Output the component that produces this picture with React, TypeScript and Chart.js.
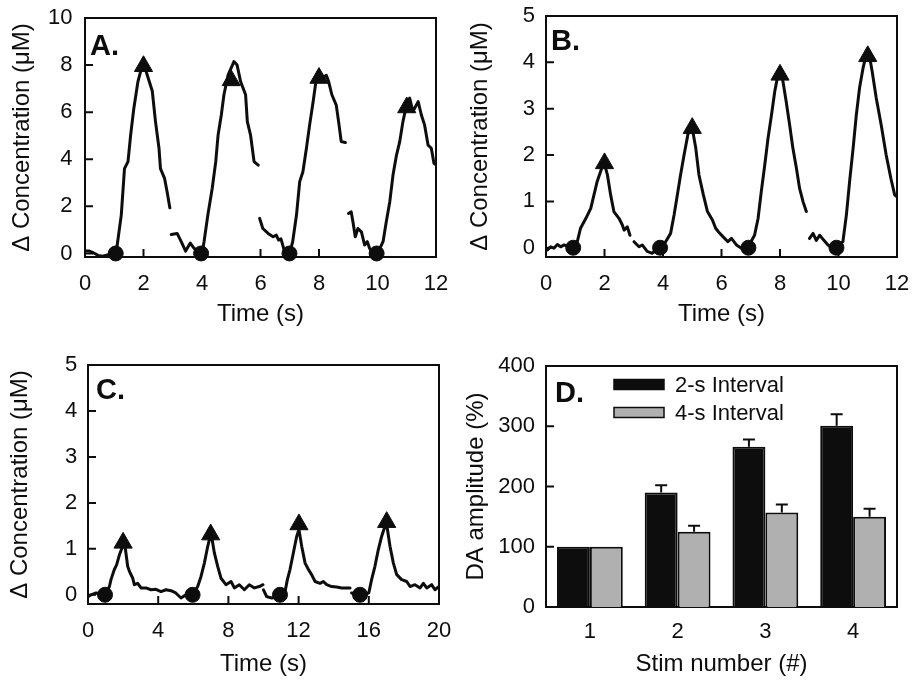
import React, { useEffect, useRef } from "react";
import { Chart, registerables } from "chart.js";

Chart.register(...registerables);

const FONT = "'Liberation Sans', Arial, Helvetica, sans-serif";
const INK = "#0d0d0d";
const GRAY = "#b0b0b0";

type Pt = [number, number | null];

// ---------- Panel A (2-s interval, Δ concentration) ----------
const A_TRACE: Pt[] = [
  [0, 0.1], [0.15, 0.1], [0.3, 0.02], [0.45, -0.08], [0.6, -0.12], [0.8, -0.05], [1.0, 0.0],
  [1.1, 0.35], [1.24, 1.63], [1.35, 3.6], [1.47, 3.9], [1.56, 5.03], [1.67, 6.17], [1.81, 7.3],
  [1.99, 8.15], [2.13, 7.57], [2.3, 6.9], [2.41, 5.6], [2.53, 4.47], [2.58, 3.6], [2.72, 3.19],
  [2.81, 2.6], [2.9, 1.94],
  [2.93, null],
  [2.95, 0.81], [3.15, 0.85], [3.29, 0.5], [3.44, 0.1], [3.6, 0.44], [3.73, 0.22], [3.9, 0.05],
  [4.0, 0.0], [4.07, 0.5], [4.2, 1.63], [4.35, 2.77], [4.47, 3.9], [4.55, 5.03], [4.66, 5.88],
  [4.75, 6.74], [4.89, 7.57], [5.04, 8.0], [5.09, 8.15], [5.2, 8.0], [5.32, 7.3], [5.49, 6.74],
  [5.55, 5.6], [5.66, 5.03], [5.78, 3.9], [5.92, 3.75],
  [5.95, null],
  [5.97, 1.49], [6.08, 1.06], [6.26, 0.85], [6.43, 0.71], [6.54, 0.78], [6.62, 0.57], [6.7, 0.62],
  [6.83, 0.05], [7.0, 0.0], [7.1, 0.5], [7.23, 1.63], [7.34, 3.05], [7.45, 3.47], [7.57, 4.47],
  [7.68, 5.46], [7.8, 6.45], [7.91, 7.43], [7.97, 7.72], [8.1, 7.43], [8.25, 7.57], [8.33, 7.3],
  [8.44, 6.74], [8.59, 6.3], [8.67, 5.6], [8.76, 4.75], [8.9, 4.71],
  [8.95, null],
  [9.01, 1.7], [9.1, 1.77], [9.16, 1.35], [9.24, 0.71], [9.33, 1.06], [9.45, 0.92], [9.56, 0.36],
  [9.65, 0.5], [9.73, 0.22], [9.85, 0.02], [10.0, 0.0], [10.19, 0.5], [10.3, 1.35], [10.42, 2.2],
  [10.53, 3.33], [10.65, 4.18], [10.76, 4.75], [10.87, 5.6], [10.99, 6.3], [11.1, 6.6], [11.21, 6.03],
  [11.39, 6.45], [11.5, 5.88], [11.61, 5.46], [11.73, 4.6], [11.84, 4.47], [11.93, 3.83], [12.0, 3.76],
];
const A_PEAKS: Pt[] = [[2.0, 7.95], [5.0, 7.35], [8.0, 7.45], [11.0, 6.2]];
const A_ONSETS: Pt[] = [[1.05, 0], [3.97, 0], [6.99, 0], [9.97, 0]];
const A_X_TICKS = [0, 2, 4, 6, 8, 10, 12];
const A_Y_TICKS = [0, 2, 4, 6, 8, 10];

// ---------- Panel B ----------
const B_TRACE: Pt[] = [
  [0.0, -0.03], [0.04, -0.05], [0.16, 0.02], [0.27, -0.01], [0.39, 0.07], [0.5, 0.02], [0.62, 0.06],
  [0.79, 0.02], [0.95, 0.0], [1.07, 0.13], [1.18, 0.42], [1.36, 0.63], [1.53, 0.85], [1.64, 1.14],
  [1.75, 1.43], [1.87, 1.65], [1.98, 1.86], [2.1, 1.57], [2.21, 1.14], [2.32, 0.78], [2.5, 0.63],
  [2.61, 0.49], [2.67, 0.38], [2.78, 0.45], [2.87, 0.27],
  [2.94, null],
  [3.01, 0.13], [3.18, 0.02], [3.29, 0.06], [3.46, -0.08], [3.63, -0.12], [3.9, 0.0], [4.09, 0.13],
  [4.26, 0.31], [4.38, 0.71], [4.49, 1.14], [4.6, 1.57], [4.72, 2.0], [4.85, 2.44], [4.98, 2.65],
  [5.12, 2.15], [5.23, 1.57], [5.38, 1.14], [5.52, 0.78], [5.69, 0.6], [5.8, 0.42], [5.9, 0.34],
  [6.05, 0.24], [6.22, 0.13], [6.34, 0.2], [6.51, 0.06], [6.68, -0.01], [6.91, 0.02], [7.13, 0.27],
  [7.25, 0.63], [7.36, 1.21], [7.48, 1.79], [7.59, 2.36], [7.71, 2.87], [7.82, 3.37], [7.93, 3.73],
  [8.01, 3.88], [8.1, 3.59], [8.21, 3.16], [8.33, 2.65], [8.44, 2.15], [8.56, 1.72], [8.67, 1.28],
  [8.79, 0.99], [8.9, 0.78],
  [8.95, null],
  [9.01, 0.2], [9.13, 0.31], [9.24, 0.16], [9.36, 0.27], [9.5, 0.16], [9.64, 0.06], [9.81, -0.01],
  [9.93, 0.0], [10.15, 0.13], [10.27, 0.71], [10.38, 1.43], [10.5, 2.15], [10.61, 2.87], [10.72, 3.45],
  [10.84, 3.88], [10.95, 4.17], [11.03, 4.24], [11.15, 3.81], [11.29, 3.23], [11.46, 2.65],
  [11.63, 2.0], [11.79, 1.5], [11.92, 1.14], [12.0, 1.1],
];
const B_PEAKS: Pt[] = [[2.0, 1.82], [5.0, 2.58], [8.0, 3.73], [11.0, 4.13]];
const B_ONSETS: Pt[] = [[0.93, 0], [3.9, 0], [6.92, 0], [9.93, 0]];
const B_X_TICKS = [0, 2, 4, 6, 8, 10, 12];
const B_Y_TICKS = [0, 1, 2, 3, 4, 5];

// ---------- Panel C ----------
const C_TRACE: Pt[] = [
  [0.0, -0.04], [0.17, 0.0], [0.46, 0.04], [0.7, 0.02], [0.97, 0.0], [1.22, 0.18], [1.31, 0.33],
  [1.5, 0.55], [1.63, 0.65], [1.79, 0.87], [1.97, 1.05], [2.1, 1.09], [2.26, 0.62], [2.36, 0.51],
  [2.55, 0.36], [2.64, 0.22], [2.83, 0.25], [3.02, 0.15], [3.3, 0.15], [3.59, 0.11], [3.87, 0.12],
  [4.16, 0.07], [4.44, 0.11], [4.73, 0.09], [5.0, 0.04], [5.3, -0.07], [5.58, 0.0], [5.96, 0.0],
  [6.25, 0.18], [6.44, 0.4], [6.63, 0.69], [6.82, 1.05], [7.01, 1.35], [7.2, 0.91], [7.39, 0.62],
  [7.58, 0.36], [7.86, 0.22], [8.15, 0.29], [8.34, 0.15], [8.62, 0.22], [8.91, 0.11], [9.19, 0.22],
  [9.48, 0.15], [9.76, 0.18], [9.97, 0.22],
  [9.985, null],
  [10.0, 0.11], [10.18, -0.04], [10.47, -0.07], [10.94, 0.0], [11.23, 0.07], [11.36, 0.33],
  [11.51, 0.55], [11.7, 0.91], [11.89, 1.27], [12.02, 1.42], [12.18, 1.05], [12.37, 0.69],
  [12.56, 0.55], [12.74, 0.44], [12.94, 0.29], [13.22, 0.25], [13.41, 0.29], [13.6, 0.22],
  [13.88, 0.18], [14.17, 0.17], [14.45, 0.15], [14.64, 0.15], [14.93, 0.15],
  [14.97, null],
  [15.02, 0.04], [15.5, 0.0], [16.0, 0.04], [16.16, 0.33], [16.35, 0.62], [16.54, 0.98],
  [16.73, 1.27], [16.92, 1.49], [17.02, 1.53], [17.21, 1.05], [17.4, 0.69], [17.59, 0.44],
  [17.87, 0.33], [18.16, 0.29], [18.35, 0.18], [18.63, 0.22], [18.92, 0.15], [19.11, 0.25],
  [19.3, 0.15], [19.58, 0.22], [19.77, 0.11], [19.96, 0.17], [20.0, 0.15],
];
const C_PEAKS: Pt[] = [[2.0, 1.13], [6.99, 1.31], [12.02, 1.53], [17.02, 1.58]];
const C_ONSETS: Pt[] = [[0.97, 0], [5.96, 0], [10.94, 0], [15.5, 0]];
const C_X_TICKS = [0, 4, 8, 12, 16, 20];
const C_Y_TICKS = [0, 1, 2, 3, 4, 5];

// ---------- Panel D ----------
const D_CATEGORIES = ["1", "2", "3", "4"];
const D_SERIES_NAMES = ["2-s Interval", "4-s Interval"];
const D_2S = [100, 190, 266, 301];
const D_2S_ERR = [0, 12, 12, 19];
const D_4S = [100, 125, 157, 150];
const D_4S_ERR = [0, 10, 13, 13];
const D_Y_TICKS = [0, 100, 200, 300, 400];

const toXY = (pts: Pt[]) => pts.map(([x, y]) => ({ x, y }));

// zero the label-overflow padding so the plot box lands exactly where asked
const zeroPad = (sc: any) => {
  sc.paddingTop = 0;
  sc.paddingBottom = 0;
  sc.paddingLeft = 0;
  sc.paddingRight = 0;
};

// ---------- plugins ----------
const TICK_LEN = 8;

const framePlugin = {
  id: "frame",
  beforeDatasetsDraw(chart: any, _args: any, opts: any) {
    const { ctx, chartArea: a } = chart;
    ctx.save();
    ctx.strokeStyle = INK;
    ctx.lineWidth = 2;
    ctx.strokeRect(a.left, a.top, a.right - a.left, a.bottom - a.top);
    ctx.beginPath();
    if (opts.xTicks) {
      const xs = chart.scales.x;
      xs.ticks.forEach((t: any) => {
        const px = xs.getPixelForValue(t.value);
        ctx.moveTo(px, a.bottom);
        ctx.lineTo(px, a.bottom - TICK_LEN);
      });
    }
    if (opts.yTicks) {
      const ys = chart.scales.y;
      ys.ticks.forEach((t: any) => {
        const py = ys.getPixelForValue(t.value);
        ctx.moveTo(a.left, py);
        ctx.lineTo(a.left + TICK_LEN, py);
      });
    }
    ctx.stroke();
    ctx.restore();
  },
};

const panelLabelPlugin = {
  id: "panelLabel",
  afterDraw(chart: any, _args: any, opts: any) {
    const { ctx, chartArea: a } = chart;
    ctx.save();
    ctx.font = `bold 29px ${FONT}`;
    ctx.fillStyle = INK;
    ctx.textAlign = "left";
    ctx.textBaseline = "alphabetic";
    ctx.fillText(opts.text, a.left + opts.dx, a.top + opts.dy);
    ctx.restore();
  },
};

const errorBarPlugin = {
  id: "errorBars",
  afterDatasetsDraw(chart: any) {
    const { ctx } = chart;
    const yScale = chart.scales.y;
    const errs = [D_2S_ERR, D_4S_ERR];
    ctx.save();
    ctx.strokeStyle = INK;
    ctx.lineWidth = 2;
    errs.forEach((list, di) => {
      const meta = chart.getDatasetMeta(di);
      meta.data.forEach((bar: any, i: number) => {
        const e = list[i];
        if (!e) return;
        const v = chart.data.datasets[di].data[i] as number;
        const top = yScale.getPixelForValue(v + e);
        ctx.beginPath();
        ctx.moveTo(bar.x, bar.y);
        ctx.lineTo(bar.x, top);
        ctx.moveTo(bar.x - 6, top);
        ctx.lineTo(bar.x + 6, top);
        ctx.stroke();
      });
    });
    ctx.restore();
  },
};

const insideLegendPlugin = {
  id: "insideLegend",
  afterDraw(chart: any) {
    const { ctx, chartArea: a } = chart;
    ctx.save();
    ctx.font = `22px ${FONT}`;
    ctx.textAlign = "left";
    ctx.textBaseline = "middle";
    chart.data.datasets.forEach((ds: any, i: number) => {
      const cy = a.top + 18.5 + i * 28;
      ctx.fillStyle = ds.backgroundColor;
      ctx.fillRect(a.left + 68, cy - 5, 50, 10);
      ctx.strokeStyle = INK;
      ctx.lineWidth = 1.5;
      ctx.strokeRect(a.left + 68, cy - 5, 50, 10);
      ctx.fillStyle = INK;
      ctx.fillText(ds.label, a.left + 129, cy + 1);
    });
    ctx.restore();
  },
};

// ---------- config builders ----------
interface Area { left: number; top: number; right: number; bottom: number; }
interface TraceSpec {
  trace: Pt[]; peaks: Pt[]; onsets: Pt[];
  xMax: number; xTicks: number[];
  yMin: number; yMax: number; yTicks: number[];
  label: string; labelDx: number; labelDy: number;
  width: number; height: number; area: Area;
  yTickPad: number; xTickPad: number; yTitlePad: number; xTitlePad: number;
}

function traceConfig(s: TraceSpec): any {
  return {
    type: "line",
    data: {
      datasets: [
        {
          data: toXY(s.peaks), showLine: false, pointStyle: "triangle", pointRadius: 10.5,
          pointBackgroundColor: INK, pointBorderColor: INK, pointBorderWidth: 1, order: 0, clip: false,
        },
        {
          data: toXY(s.onsets), showLine: false, pointStyle: "circle", pointRadius: 7.5,
          pointBackgroundColor: INK, pointBorderColor: INK, pointBorderWidth: 1, order: 0, clip: false,
        },
        {
          data: toXY(s.trace), borderColor: INK, borderWidth: 3, pointRadius: 0, tension: 0,
          fill: false, spanGaps: false, borderJoinStyle: "round", borderCapStyle: "round", order: 1,
        },
      ],
    },
    options: {
      responsive: false,
      animation: false,
      events: [],
      layout: { padding: { left: 0, top: s.area.top, right: s.width - s.area.right, bottom: 0 } },
      plugins: {
        legend: { display: false },
        tooltip: { enabled: false },
        frame: { xTicks: true, yTicks: true },
        panelLabel: { text: s.label, dx: s.labelDx, dy: s.labelDy },
      },
      scales: {
        x: {
          type: "linear", min: 0, max: s.xMax,
          afterBuildTicks: (sc: any) => { sc.ticks = s.xTicks.map((v) => ({ value: v })); },
          afterFit: (sc: any) => { sc.height = s.height - s.area.bottom; zeroPad(sc); },
          grid: { display: false, drawTicks: false },
          border: { display: false },
          ticks: { color: INK, font: { size: 22, family: FONT }, padding: s.xTickPad, autoSkip: false, maxRotation: 0 },
          title: { display: true, text: "Time (s)", color: INK, font: { size: 24, family: FONT }, padding: { top: 0, bottom: s.xTitlePad } },
        },
        y: {
          type: "linear", min: s.yMin, max: s.yMax,
          afterBuildTicks: (sc: any) => { sc.ticks = s.yTicks.map((v) => ({ value: v })); },
          afterFit: (sc: any) => { sc.width = s.area.left; zeroPad(sc); },
          grid: { display: false, drawTicks: false },
          border: { display: false },
          ticks: { color: INK, font: { size: 22, family: FONT }, padding: s.yTickPad, autoSkip: false },
          title: { display: true, text: "Δ Concentration (μM)", color: INK, font: { size: 24, family: FONT }, padding: { top: s.yTitlePad, bottom: 0 } },
        },
      },
    },
    plugins: [framePlugin, panelLabelPlugin],
  };
}

function barConfig(width: number, height: number, area: Area): any {
  return {
    type: "bar",
    data: {
      labels: D_CATEGORIES,
      datasets: [
        { label: D_SERIES_NAMES[0], data: D_2S, backgroundColor: INK, borderColor: INK, borderWidth: 2, categoryPercentage: 0.75, barPercentage: 1 },
        { label: D_SERIES_NAMES[1], data: D_4S, backgroundColor: GRAY, borderColor: INK, borderWidth: 2, categoryPercentage: 0.75, barPercentage: 1 },
      ],
    },
    options: {
      responsive: false,
      animation: false,
      events: [],
      layout: { padding: { left: 0, top: area.top, right: width - area.right, bottom: 0 } },
      plugins: {
        legend: { display: false },
        tooltip: { enabled: false },
        frame: { xTicks: false, yTicks: true },
        panelLabel: { text: "D.", dx: 9, dy: 36 },
      },
      scales: {
        x: {
          type: "category",
          afterFit: (sc: any) => { sc.height = height - area.bottom; zeroPad(sc); },
          grid: { display: false, drawTicks: false },
          border: { display: false },
          ticks: { color: INK, font: { size: 22, family: FONT }, padding: 11.5, maxRotation: 0 },
          title: { display: true, text: "Stim number (#)", color: INK, font: { size: 24, family: FONT }, padding: { top: 0, bottom: 8.6 } },
        },
        y: {
          type: "linear", min: 0, max: 400,
          afterBuildTicks: (sc: any) => { sc.ticks = D_Y_TICKS.map((v) => ({ value: v })); },
          afterFit: (sc: any) => { sc.width = area.left; zeroPad(sc); },
          grid: { display: false, drawTicks: false },
          border: { display: false },
          ticks: { color: INK, font: { size: 22, family: FONT }, padding: 11, autoSkip: false },
          title: { display: true, text: "DA amplitude (%)", color: INK, font: { size: 24, family: FONT }, padding: { top: 4.3, bottom: 0 } },
        },
      },
    },
    plugins: [framePlugin, errorBarPlugin, insideLegendPlugin, panelLabelPlugin],
  };
}

function ChartCanvas({ left, top, width, height, config }: { left: number; top: number; width: number; height: number; config: any }) {
  const ref = useRef<HTMLCanvasElement>(null);
  useEffect(() => {
    if (!ref.current) return;
    const chart = new Chart(ref.current, config);
    return () => chart.destroy();
  }, []);
  return (
    <div style={{ position: "absolute", left, top, width, height }}>
      <canvas ref={ref} width={width} height={height} style={{ width, height, display: "block" }} />
    </div>
  );
}

export default function App() {
  const cfgA = traceConfig({
    trace: A_TRACE, peaks: A_PEAKS, onsets: A_ONSETS,
    xMax: 12, xTicks: A_X_TICKS, yMin: -0.15, yMax: 10, yTicks: A_Y_TICKS,
    label: "A.", labelDx: 5, labelDy: 37,
    width: 458, height: 340, area: { left: 85, top: 18, right: 436, bottom: 257 },
    yTickPad: 12.5, xTickPad: 13.5, yTitlePad: 7.9, xTitlePad: 11.6,
  });
  const cfgB = traceConfig({
    trace: B_TRACE, peaks: B_PEAKS, onsets: B_ONSETS,
    xMax: 12, xTicks: B_X_TICKS, yMin: -0.2, yMax: 5, yTicks: B_Y_TICKS,
    label: "B.", labelDx: 5, labelDy: 34,
    width: 459, height: 340, area: { left: 88, top: 16, right: 439, bottom: 257 },
    yTickPad: 11, xTickPad: 13.6, yTitlePad: 7.6, xTitlePad: 11.6,
  });
  const cfgC = traceConfig({
    trace: C_TRACE, peaks: C_PEAKS, onsets: C_ONSETS,
    xMax: 20, xTicks: C_X_TICKS, yMin: -0.2, yMax: 5, yTicks: C_Y_TICKS,
    label: "C.", labelDx: 8, labelDy: 34,
    width: 458, height: 347, area: { left: 88, top: 25, right: 439, bottom: 264 },
    yTickPad: 10.7, xTickPad: 13.3, yTitlePad: 6.3, xTitlePad: 8.6,
  });
  const cfgD = barConfig(459, 347, { left: 88, top: 26, right: 439, bottom: 267 });

  return (
    <div style={{ position: "absolute", left: 0, top: 0, width: 917, height: 687, background: "#ffffff" }}>
      <ChartCanvas left={0} top={0} width={458} height={340} config={cfgA} />
      <ChartCanvas left={458} top={0} width={459} height={340} config={cfgB} />
      <ChartCanvas left={0} top={340} width={458} height={347} config={cfgC} />
      <ChartCanvas left={458} top={340} width={459} height={347} config={cfgD} />
    </div>
  );
}
